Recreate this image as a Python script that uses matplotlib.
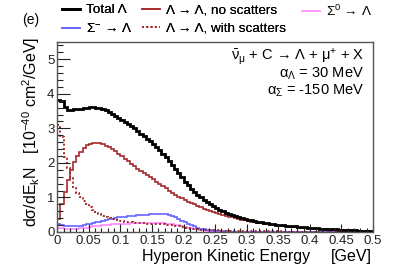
import numpy as np
import matplotlib
matplotlib.use("Agg")
import matplotlib.pyplot as plt
from matplotlib.ticker import FixedLocator, FixedFormatter, MultipleLocator
from matplotlib.lines import Line2D

plt.rcParams['font.family'] = ['Liberation Sans', 'DejaVu Sans']
plt.rcParams['mathtext.fontset'] = 'custom'
plt.rcParams['mathtext.rm'] = 'Liberation Sans'
plt.rcParams['mathtext.it'] = 'Liberation Sans:italic'
plt.rcParams['mathtext.bf'] = 'Liberation Sans:bold'

# ---- data (100 bins, width 0.005 GeV) ----
bin_lo, bin_hi, n_bins = 0.0, 0.5, 100

total = [3.83, 3.78, 3.63, 3.54, 3.53, 3.55, 3.56, 3.57, 3.59, 3.60,
         3.61, 3.61, 3.60, 3.58, 3.55, 3.52, 3.47, 3.42, 3.37, 3.31,
         3.25, 3.19, 3.13, 3.07, 3.00, 2.93, 2.85, 2.77, 2.70, 2.62,
         2.55, 2.47, 2.36, 2.26, 2.16, 2.05, 1.93, 1.82, 1.70, 1.58,
         1.46, 1.35, 1.25, 1.16, 1.08, 1.01, 0.94, 0.87, 0.80, 0.74,
         0.69, 0.65, 0.61, 0.56, 0.52, 0.49, 0.46, 0.43, 0.41, 0.38,
         0.36, 0.34, 0.32, 0.30, 0.28, 0.27, 0.25, 0.24, 0.22, 0.21,
         0.20, 0.19, 0.18, 0.175, 0.17, 0.16, 0.15, 0.14, 0.135, 0.13,
         0.12, 0.115, 0.11, 0.10, 0.095, 0.09, 0.085, 0.08, 0.075, 0.07,
         0.065, 0.06, 0.055, 0.05, 0.045, 0.04, 0.035, 0.03, 0.027, 0.024]

no_scat = [0.38, 0.80, 1.15, 1.50, 1.80, 2.02, 2.20, 2.33, 2.43, 2.51,
           2.56, 2.59, 2.59, 2.57, 2.54, 2.50, 2.45, 2.40, 2.34, 2.27,
           2.20, 2.12, 2.05, 1.97, 1.90, 1.83, 1.77, 1.71, 1.64, 1.58,
           1.52, 1.46, 1.39, 1.33, 1.26, 1.19, 1.13, 1.07, 1.02, 0.98,
           0.93, 0.88, 0.84, 0.80, 0.76, 0.72, 0.68, 0.65, 0.62, 0.59,
           0.56, 0.53, 0.50, 0.47, 0.44, 0.42, 0.40, 0.38, 0.36, 0.34,
           0.32, 0.30, 0.28, 0.27, 0.25, 0.24, 0.22, 0.21, 0.20, 0.19,
           0.18, 0.17, 0.16, 0.15, 0.14, 0.135, 0.13, 0.12, 0.115, 0.11,
           0.10, 0.095, 0.09, 0.085, 0.08, 0.075, 0.07, 0.066, 0.062, 0.058,
           0.055, 0.052, 0.049, 0.046, 0.043, 0.040, 0.038, 0.036, 0.034, 0.032]

with_scat = [3.10, 2.76, 2.18, 1.85, 1.56, 1.30, 1.12, 1.00, 0.90, 0.80,
             0.72, 0.64, 0.57, 0.52, 0.47, 0.43, 0.40, 0.37, 0.35, 0.33,
             0.31, 0.30, 0.29, 0.28, 0.27, 0.26, 0.25, 0.25, 0.24, 0.24,
             0.23, 0.23, 0.22, 0.22, 0.21, 0.20, 0.19, 0.18, 0.16, 0.14,
             0.12, 0.11, 0.10, 0.09, 0.08, 0.07, 0.065, 0.06, 0.055, 0.05,
             0.048, 0.045, 0.043, 0.040, 0.038, 0.036, 0.034, 0.032, 0.030, 0.028,
             0.026, 0.025, 0.024, 0.022, 0.021, 0.020, 0.019, 0.018, 0.017, 0.016,
             0.015, 0.014, 0.013, 0.012, 0.012, 0.011, 0.010, 0.010, 0.009, 0.009,
             0.008, 0.008, 0.007, 0.007, 0.006, 0.006, 0.006, 0.005, 0.005, 0.005,
             0.004, 0.004, 0.004, 0.004, 0.003, 0.003, 0.003, 0.003, 0.002, 0.002]

sigma_minus = [0.22, 0.20, 0.18, 0.17, 0.165, 0.165, 0.17, 0.18, 0.20, 0.22,
               0.24, 0.26, 0.28, 0.30, 0.33, 0.35, 0.37, 0.39, 0.40, 0.42,
               0.43, 0.44, 0.45, 0.46, 0.47, 0.48, 0.49, 0.50, 0.50, 0.51,
               0.51, 0.51, 0.52, 0.52, 0.52, 0.50, 0.47, 0.43, 0.38, 0.33,
               0.28, 0.23, 0.19, 0.16, 0.13, 0.10, 0.08, 0.06, 0.05, 0.04,
               0.03, 0.025, 0.020, 0.018, 0.015, 0.013, 0.011, 0.010, 0.009, 0.008,
               0.007, 0.007, 0.006, 0.006, 0.005, 0.005, 0.005, 0.004, 0.004, 0.004,
               0.003, 0.003, 0.003, 0.003, 0.003, 0.003, 0.003, 0.003, 0.003, 0.003,
               0.002, 0.002, 0.002, 0.002, 0.002, 0.002, 0.002, 0.002, 0.002, 0.002,
               0.001, 0.001, 0.001, 0.001, 0.001, 0.001, 0.001, 0.001, 0.001, 0.001]

sigma_zero = [0.12, 0.11, 0.10, 0.09, 0.09, 0.09, 0.10, 0.11, 0.12, 0.13,
              0.145, 0.16, 0.17, 0.185, 0.195, 0.205, 0.215, 0.22, 0.23, 0.235,
              0.24, 0.245, 0.245, 0.25, 0.25, 0.25, 0.25, 0.25, 0.25, 0.25,
              0.25, 0.25, 0.25, 0.25, 0.245, 0.24, 0.225, 0.21, 0.19, 0.17,
              0.15, 0.13, 0.11, 0.09, 0.075, 0.06, 0.05, 0.04, 0.03, 0.025,
              0.020, 0.016, 0.013, 0.010, 0.008, 0.006, 0.005, 0.004, 0.004, 0.003,
              0.003, 0.003, 0.002, 0.002, 0.002, 0.002, 0.002, 0.002, 0.001, 0.001,
              0.001, 0.001, 0.001, 0.001, 0.001, 0.001, 0.001, 0.001, 0.001, 0.001,
              0.001, 0.001, 0.001, 0.001, 0.001, 0.001, 0.001, 0.001, 0.001, 0.001,
              0.001, 0.001, 0.001, 0.001, 0.001, 0.001, 0.001, 0.001, 0.001, 0.001]

x_ticks = [0, 0.05, 0.1, 0.15, 0.2, 0.25, 0.3, 0.35, 0.4, 0.45, 0.5]
x_tick_labels = ["0", "0.05", "0.1", "0.15", "0.2", "0.25", "0.3", "0.35", "0.4", "0.45", "0.5"]
y_ticks = [0, 1, 2, 3, 4, 5]
y_tick_labels = ["0", "1", "2", "3", "4", "5"]

labels = {
    'total': "Total Λ",
    'no': "Λ → Λ, no scatters",
    'with': "Λ → Λ, with scatters",
    'sm': "Σ$^{-}$ → Λ",
    's0': "Σ$^{0}$ → Λ",
}

c_black = "#000000"
c_red = "#a52a2a"
c_blue = "#6666ff"
c_pink = "#ff88ff"

W, H = 415, 267
fig = plt.figure(figsize=(W / 100, H / 100), dpi=100)
ax = fig.add_axes([57.3 / W, 1 - 232 / H, (373 - 57.3) / W, (232 - 42) / H])

edges = np.linspace(bin_lo, bin_hi, n_bins + 1)
ax.stairs(sigma_zero, edges, color=c_pink, lw=1.2, baseline=None)
ax.stairs(sigma_minus, edges, color=c_blue, lw=1.2, baseline=None)
ax.stairs(with_scat, edges, color=c_red, lw=1.4, ls=(0, (1, 1.2)), baseline=None)
ax.stairs(no_scat, edges, color=c_red, lw=1.2, baseline=None)
ax.stairs(total, edges, color=c_black, lw=2.0, baseline=None)

ax.set_xlim(0, 0.5)
ax.set_ylim(0, 5.5)
ax.xaxis.set_major_locator(FixedLocator(x_ticks))
ax.xaxis.set_major_formatter(FixedFormatter(x_tick_labels))
ax.yaxis.set_major_locator(FixedLocator(y_ticks))
ax.yaxis.set_major_formatter(FixedFormatter(y_tick_labels))
ax.xaxis.set_minor_locator(MultipleLocator(0.01))
ax.yaxis.set_minor_locator(MultipleLocator(0.2))
ax.tick_params(which='both', direction='in', top=False, right=False,
               labelsize=9.5, colors='#222222', pad=2)
ax.tick_params(which='major', axis='y', length=9, width=0.8)
ax.tick_params(which='minor', axis='y', length=4.5, width=0.8)
ax.tick_params(which='major', axis='x', length=6, width=0.8)
ax.tick_params(which='minor', axis='x', length=3, width=0.8)
for sp in ax.spines.values():
    sp.set_color('#555555')
    sp.set_linewidth(1.0)

# axis titles
fig.text(310 / W, 1 - 257 / H, "Hyperon Kinetic Energy", ha='right', va='center', fontsize=11.5)
fig.text(372 / W, 1 - 257 / H, "[GeV]", ha='right', va='center', fontsize=11.5)
fig.text(31 / W, 1 - 132 / H,
         "dσ/dE$_{\\mathrm{k}}$N   [10$^{-40}$ cm$^{2}$/GeV]",
         rotation=90, ha='center', va='center', fontsize=11.5)

fig.text(22 / W, 1 - 20 / H, "(e)", ha='left', va='center', fontsize=10)

tx = 364 / W
fig.text(tx, 1 - 57 / H, "$\\mathrm{\\bar{\\nu}}_{\\mathrm{\\mu}}$ + C → Λ + μ$^{+}$ + X",
         ha='right', va='center', fontsize=10.5)
fig.text(tx, 1 - 74 / H, "α$_{Λ}$ = 30 MeV", ha='right', va='center', fontsize=10.5)
fig.text(tx, 1 - 91 / H, "α$_{Σ}$ = -150 MeV", ha='right', va='center', fontsize=10.5)

hk = lambda c, lw, ls='-': Line2D([], [], color=c, lw=lw, ls=ls)
leg1 = fig.legend([hk(c_black, 2.0), hk(c_blue, 1.2), hk(c_red, 1.2), hk(c_red, 1.4, (0, (1, 1.2)))],
                  [labels['total'], labels['sm'], labels['no'], labels['with']],
                  ncol=2, loc='upper left', bbox_to_anchor=(62 / W, 1 - 4 / H),
                  frameon=False, fontsize=9.7, borderpad=0, borderaxespad=0,
                  handlelength=1.35, handletextpad=0.4, columnspacing=0.75, labelspacing=0.45)
fig.add_artist(leg1)
leg2 = fig.legend([hk(c_pink, 1.2)], [labels['s0']],
                  loc='upper left', bbox_to_anchor=(302 / W, 1 - 4 / H),
                  frameon=False, fontsize=9.7, borderpad=0, borderaxespad=0,
                  handlelength=1.35, handletextpad=0.4)

fig.savefig("out.png", dpi=100)
